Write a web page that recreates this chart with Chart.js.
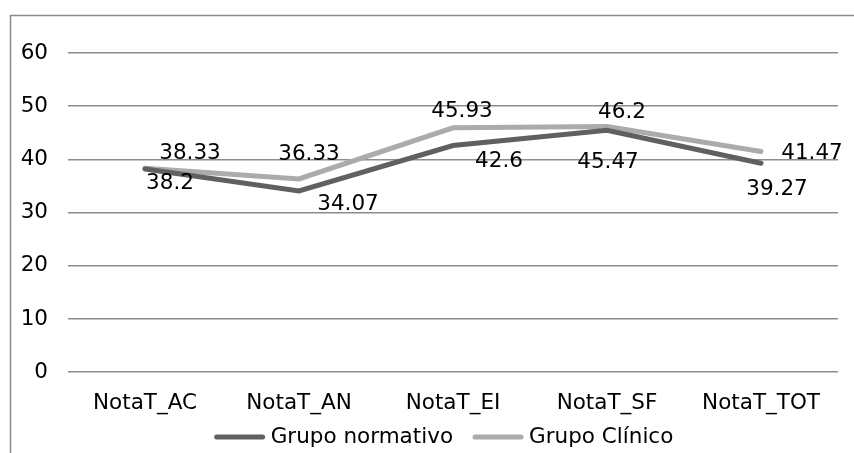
<!DOCTYPE html>
<html>
<head>
<meta charset="utf-8">
<script src="https://cdn.jsdelivr.net/npm/chart.js@4.4.0/dist/chart.umd.min.js"></script>
<style>
  html, body { margin: 0; padding: 0; background: #fff; }
  #wrap { width: 854px; height: 453px; position: relative; }
</style>
</head>
<body>
<div id="wrap"><canvas id="chart" width="854" height="453"></canvas></div>
<script>
'use strict';

// categories and series
const categories = ['NotaT_AC', 'NotaT_AN', 'NotaT_EI', 'NotaT_SF', 'NotaT_TOT'];
const normativo = [38.2, 34.07, 42.6, 45.47, 39.27];
const clinico = [38.33, 36.33, 45.93, 46.2, 41.47];
const yTicks = [0, 10, 20, 30, 40, 50, 60];

// label nudges (px) relative to each point, as placed in the original
const normOffsets = [[25, 14], [49, 13], [46, 16], [1, 32], [16, 26]];
const clinOffsets = [[45, -15], [10, -25], [9, -16], [15, -14], [51, 2]];

const FONT = 'DejaVu Sans';
const FONT_SIZE = 21.5;

// draws the value labels next to each point
const valueLabels = {
    id: 'valueLabels',
    afterDatasetsDraw(chart) {
        const ctx = chart.ctx;
        ctx.save();
        ctx.font = FONT_SIZE + 'px "' + FONT + '"';
        ctx.fillStyle = '#000';
        ctx.textAlign = 'center';
        ctx.textBaseline = 'middle';
        chart.data.datasets.forEach((ds, i) => {
            const meta = chart.getDatasetMeta(i);
            const offs = ds.labelOffsets;
            meta.data.forEach((pt, j) => {
                ctx.fillText(String(ds.data[j]), pt.x + offs[j][0], pt.y + offs[j][1]);
            });
        });
        ctx.restore();
    }
};

// frame + legend drawn the way the original has them (line swatch touching the text)
const frameAndLegend = {
    id: 'frameAndLegend',
    afterDraw(chart) {
        const ctx = chart.ctx;
        ctx.save();
        ctx.strokeStyle = '#8c8c8c';
        ctx.lineWidth = 1.5;
        ctx.strokeRect(10.5, 15.5, 900, 500);

        ctx.font = FONT_SIZE + 'px "' + FONT + '"';
        ctx.textBaseline = 'middle';
        ctx.textAlign = 'left';
        const sw = 50, gapText = 6, gapItem = 20, y = 437;
        const items = chart.data.datasets.map(ds => ({
            text: ds.label, color: ds.borderColor, w: ctx.measureText(ds.label).width
        }));
        let total = 0;
        items.forEach((it, i) => { total += sw + gapText + it.w + (i ? gapItem : 0); });
        let x = 444 - total / 2;
        items.forEach((it) => {
            ctx.strokeStyle = it.color;
            ctx.lineWidth = 5;
            ctx.lineCap = 'round';
            ctx.beginPath();
            ctx.moveTo(x + 2, y);
            ctx.lineTo(x + sw - 2, y);
            ctx.stroke();
            ctx.fillStyle = '#000';
            ctx.fillText(it.text, x + sw + gapText, y);
            x += sw + gapText + it.w + gapItem;
        });
        ctx.restore();
    }
};

new Chart(document.getElementById('chart'), {
    type: 'line',
    data: {
        labels: categories,
        datasets: [
            {
                label: 'Grupo normativo',
                data: normativo,
                labelOffsets: normOffsets,
                borderColor: '#606060',
                backgroundColor: '#606060',
                borderWidth: 5,
                pointRadius: 0,
                tension: 0,
                borderCapStyle: 'round'
            },
            {
                label: 'Grupo Clínico',
                data: clinico,
                labelOffsets: clinOffsets,
                borderColor: '#ababab',
                backgroundColor: '#ababab',
                borderWidth: 5,
                pointRadius: 0,
                tension: 0,
                borderCapStyle: 'round'
            }
        ]
    },
    options: {
        responsive: false,
        animation: false,
        layout: { padding: { left: 10, right: 16, top: 53, bottom: 19 } },
        plugins: {
            legend: { display: false },
            tooltip: { enabled: false }
        },
        scales: {
            x: {
                offset: true,
                grid: { display: false, drawTicks: false },
                border: { display: false },
                ticks: { font: { family: FONT, size: FONT_SIZE }, color: '#000', padding: 18, maxRotation: 0 }
            },
            y: {
                min: 0,
                max: 60,
                afterBuildTicks: (s) => { s.ticks = yTicks.map(v => ({ value: v })); },
                afterFit: (s) => { s.width = 58; },
                grid: { color: '#8c8c8c', lineWidth: 1.5, drawTicks: false },
                border: { display: false },
                ticks: { font: { family: FONT, size: FONT_SIZE }, color: '#000', padding: 20 }
            }
        }
    },
    plugins: [valueLabels, frameAndLegend]
});
</script>
</body>
</html>
